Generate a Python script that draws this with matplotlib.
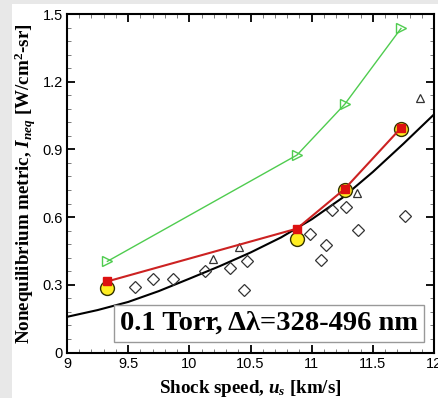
import matplotlib
matplotlib.use("Agg")
import matplotlib.pyplot as plt
from matplotlib.ticker import MultipleLocator, FixedLocator
from matplotlib.patches import Rectangle

plt.rcParams['mathtext.fontset'] = 'custom'
plt.rcParams['mathtext.rm'] = 'Liberation Serif:bold'
plt.rcParams['mathtext.it'] = 'Liberation Serif:bold:italic'
plt.rcParams['mathtext.bf'] = 'Liberation Serif:bold'

# ---- data ----
sim_x = [9.33, 10.88, 11.27, 11.73]
green_y = [0.404, 0.875, 1.10, 1.436]
red_y = [0.315, 0.549, 0.725, 0.995]
yellow_y = [0.284, 0.505, 0.72, 0.99]

fit_x = [9.0, 9.25, 9.5, 9.75, 10.0, 10.25, 10.5, 10.75, 11.0, 11.25, 11.5, 11.75, 12.0]
fit_y = [0.158, 0.188, 0.224, 0.272, 0.327, 0.383, 0.443, 0.51, 0.59, 0.685, 0.80, 0.925, 1.055]

dia_x = [9.555, 9.70, 9.87, 10.13, 10.335, 10.47, 10.45, 10.99, 11.12, 11.08, 11.17, 11.28, 11.38, 11.76]
dia_y = [0.292, 0.324, 0.324, 0.361, 0.376, 0.405, 0.277, 0.527, 0.476, 0.41, 0.63, 0.645, 0.545, 0.603]

tri_x = [10.19, 10.405, 11.37, 11.885]
tri_y = [0.415, 0.467, 0.709, 1.126]

xticks = [9, 9.5, 10, 10.5, 11, 11.5, 12]
xticklabels = ['9', '9.5', '10', '10.5', '11', '11.5', '12']
yticks = [0, 0.3, 0.6, 0.9, 1.2, 1.5]
yticklabels = ['0', '0.3', '0.6', '0.9', '1.2', '1.5']

W, H = 439, 398
fig = plt.figure(figsize=(W / 100, H / 100), dpi=100, facecolor='#e8e8e8')
fig.patches.append(Rectangle((12 / W, 0), 1, 1 - 4 / H, transform=fig.transFigure,
                             facecolor='white', edgecolor='none', zorder=-10))

l, r, t, b = 67, 434, 14, 352.5
ax = fig.add_axes([l / W, 1 - b / H, (r - l) / W, (b - t) / H])
ax.set_zorder(1)
ax.set_xlim(9, 12)
ax.set_ylim(0, 1.5)

ax.plot(fit_x, fit_y, color='black', lw=1.5, zorder=2)
ax.plot(sim_x, green_y, color='#4fcc4f', lw=1.0, marker='>', ms=7, mfc='none',
        mec='#4fcc4f', mew=1.0, zorder=3)
ax.plot(sim_x, yellow_y, ls='none', marker='o', ms=10, mfc='#ffee22', mec='#333300',
        mew=1.0, zorder=4)
ax.plot(sim_x, red_y, color='#cc2222', lw=1.5, marker='s', ms=5.5, mfc='#dd1111',
        mec='#dd1111', zorder=5)
ax.plot(dia_x, dia_y, ls='none', marker='D', ms=6, mfc='none', mec='#333333', mew=0.9, zorder=3)
ax.plot(tri_x, tri_y, ls='none', marker='^', ms=6, mfc='none', mec='#333333', mew=0.9, zorder=3)

ax.xaxis.set_major_locator(FixedLocator(xticks))
ax.set_xticklabels(xticklabels)
ax.yaxis.set_major_locator(FixedLocator(yticks))
ax.set_yticklabels(yticklabels)
ax.xaxis.set_minor_locator(MultipleLocator(0.1))
ax.yaxis.set_minor_locator(MultipleLocator(0.06))
ax.tick_params(which='both', direction='in', top=True, right=True)
ax.tick_params(which='major', length=6, width=1.3, labelsize=10.5, pad=3)
ax.tick_params(which='minor', length=3, width=0.6, color='#666666')
for lab in ax.get_xticklabels() + ax.get_yticklabels():
    lab.set_family('Liberation Sans')
for s in ax.spines.values():
    s.set_linewidth(1.5)

ax.set_xlabel(r'Shock speed, $u_s$ [km/s]', family='Liberation Serif', weight='bold',
              fontsize=13.7, labelpad=5)
ax.set_ylabel(r'Nonequilibrium metric, $I_{neq}$ [W/cm$^2$-sr]', family='Liberation Serif',
              weight='bold', fontsize=13.7, labelpad=3)

ax.text(0.550, 0.0857, '0.1 Torr, \u0394\u03bb=328-496 nm', transform=ax.transAxes,
        ha='center', va='center', family='Liberation Serif', weight='bold', fontsize=20.5,
        bbox=dict(boxstyle='square,pad=0.22', facecolor='white', edgecolor='#999999', lw=1.0),
        zorder=6)

fig.savefig('out.png', dpi=100, facecolor=fig.get_facecolor())
